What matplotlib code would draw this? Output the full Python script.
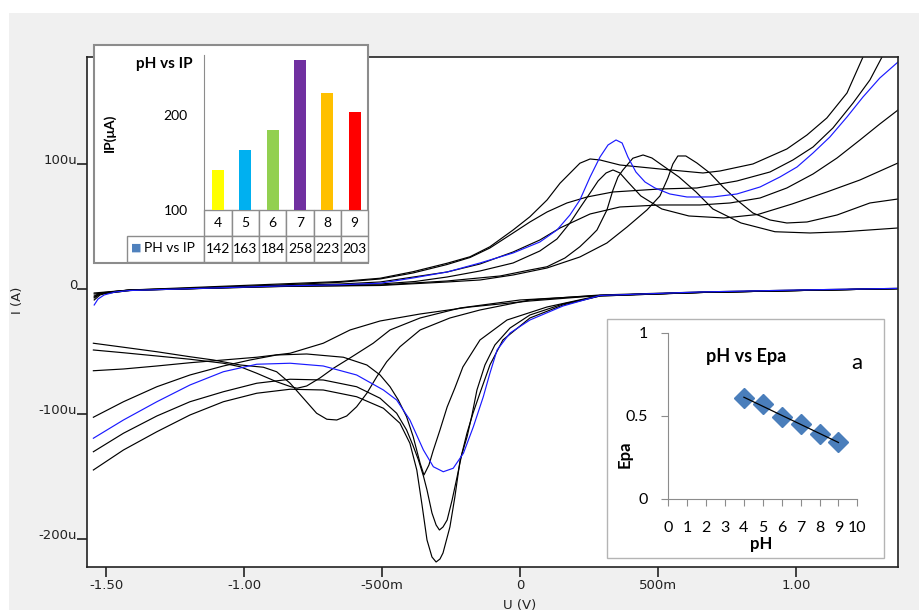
import matplotlib.pyplot as plt
import numpy as np
from matplotlib.patches import Rectangle

# ---- cyclic voltammograms: (potential V, current uA) ----
blue_fwd = [(-1.543, -12.8), (-1.529, -8.0), (-1.507, -4.8), (-1.467, -2.4), (-1.413, -1.2),
            (-1.232, 0.0), (-0.870, 2.4), (-0.650, 3.4), (-0.507, 4.6), (-0.388, 8.8),
            (-0.264, 13.6), (-0.145, 20.8), (-0.025, 28.8), (0.072, 37.6), (0.134, 47.2),
            (0.181, 59.2), (0.217, 71.2), (0.254, 89.6), (0.290, 105.6), (0.319, 115.2),
            (0.348, 119.2), (0.370, 116.8), (0.391, 105.6), (0.420, 93.6), (0.453, 85.6),
            (0.489, 80.8), (0.543, 76.0), (0.605, 73.6), (0.699, 73.6), (0.786, 76.0),
            (0.870, 81.6), (0.942, 89.6), (1.004, 97.6), (1.062, 108.8), (1.123, 121.6),
            (1.185, 137.6), (1.243, 153.6), (1.304, 168.8), (1.370, 181.6)]
blue_rev = [(1.370, 0.5), (1.014, -0.8), (0.652, -2.4), (0.290, -5.2), (0.156, -13.6),
            (0.036, -24.8), (-0.036, -35.2), (-0.083, -48.8), (-0.109, -67.4), (-0.133, -86.2),
            (-0.169, -110.2), (-0.205, -131.4), (-0.242, -143.4), (-0.278, -146.2),
            (-0.314, -142.2), (-0.350, -128.8), (-0.399, -104.8), (-0.447, -88.8),
            (-0.495, -80.8), (-0.592, -68.8), (-0.713, -61.6), (-0.833, -59.4), (-0.954, -60.2),
            (-1.075, -66.2), (-1.196, -76.8), (-1.316, -90.2), (-1.437, -104.8), (-1.546, -119.4)]

fwd_1 = [(-1.543, -8.8), (-1.522, -4.8), (-1.486, -2.4), (-1.413, -0.8), (-1.232, 0.8),
         (-0.870, 4.0), (-0.650, 6.0), (-0.507, 8.6), (-0.388, 13.8), (-0.264, 20.6),
         (-0.181, 25.8), (-0.109, 33.8), (-0.025, 47.2), (0.036, 57.8), (0.098, 71.2),
         (0.145, 84.6), (0.181, 92.6), (0.217, 100.6), (0.254, 104.0), (0.290, 103.2),
         (0.362, 99.2), (0.507, 96.0), (0.663, 92.8), (0.725, 94.4), (0.844, 100.0),
         (0.967, 112.0), (1.040, 123.2), (1.112, 136.8), (1.185, 156.8), (1.243, 185.6)]
fwd_2 = [(-1.543, -5.6), (-1.522, -3.2), (-1.413, -0.8), (-1.232, 0.4), (-0.870, 3.2),
         (-0.650, 5.4), (-0.507, 8.0), (-0.388, 12.8), (-0.264, 19.6), (-0.181, 25.2),
         (-0.109, 32.8), (-0.025, 44.8), (0.036, 53.6), (0.098, 61.6), (0.170, 68.8),
         (0.243, 73.6), (0.337, 77.6), (0.507, 80.0), (0.641, 80.8), (0.786, 86.4),
         (0.906, 93.6), (0.989, 103.2), (1.062, 113.6), (1.134, 128.8), (1.207, 148.8),
         (1.268, 167.2), (1.312, 185.6)]
fwd_3 = [(-1.543, -6.4), (-1.522, -4.0), (-1.413, -1.2), (-1.232, 0.0), (-0.870, 2.4),
         (-0.507, 4.0), (-0.380, 6.0), (-0.264, 9.6), (-0.145, 14.4), (-0.025, 20.8),
         (0.072, 30.4), (0.134, 40.0), (0.181, 52.8), (0.217, 64.8), (0.254, 76.8),
         (0.283, 86.4), (0.312, 92.8), (0.337, 95.2), (0.362, 92.8), (0.391, 85.6),
         (0.438, 74.4), (0.514, 64.0), (0.612, 58.4), (0.739, 56.8), (0.862, 59.6),
         (0.986, 68.0), (1.112, 77.6), (1.232, 87.2), (1.370, 100.8)]
fwd_4 = [(-1.543, -4.0), (-1.413, -0.8), (-1.232, 0.0), (-0.870, 2.0), (-0.507, 3.2),
         (-0.264, 6.4), (-0.072, 10.4), (0.036, 15.2), (0.098, 17.8), (0.163, 24.8),
         (0.217, 33.8), (0.254, 41.6), (0.279, 47.2), (0.315, 63.2), (0.337, 79.2),
         (0.355, 89.6), (0.373, 95.2), (0.409, 104.6), (0.446, 107.2), (0.478, 104.8),
         (0.514, 99.2), (0.576, 89.6), (0.638, 77.6), (0.699, 64.0), (0.801, 52.8),
         (0.924, 45.8), (1.051, 44.8), (1.174, 45.8), (1.370, 48.8)]
fwd_5 = [(-1.543, -3.2), (-1.413, -0.8), (-1.232, 0.0), (-0.870, 2.0), (-0.507, 2.8),
         (-0.264, 5.6), (-0.145, 7.2), (-0.025, 11.2), (0.098, 16.8), (0.217, 25.6),
         (0.315, 36.8), (0.388, 49.6), (0.460, 63.2), (0.507, 74.4), (0.536, 88.8),
         (0.554, 100.0), (0.572, 106.4), (0.601, 106.4), (0.641, 100.8), (0.688, 92.8),
         (0.736, 81.6), (0.786, 71.2), (0.844, 60.8), (0.906, 55.2), (0.967, 52.8),
         (1.040, 53.6), (1.149, 59.2), (1.268, 68.8), (1.370, 72.0)]
fwd_6 = [(-1.543, -7.2), (-1.522, -4.0), (-1.413, -1.2), (-1.232, 0.0), (-0.870, 2.8),
         (-0.650, 4.0), (-0.507, 5.6), (-0.264, 13.6), (-0.145, 20.0), (-0.025, 29.6),
         (0.072, 39.2), (0.145, 48.8), (0.254, 60.0), (0.362, 65.6), (0.507, 67.2),
         (0.652, 67.2), (0.761, 68.8), (0.870, 72.8), (0.967, 80.8), (1.062, 92.0),
         (1.149, 104.8), (1.232, 119.2), (1.304, 132.0), (1.370, 143.2)]

rev_1 = [(-1.546, -43.4), (-1.437, -46.6), (-1.316, -50.2), (-1.196, -54.2), (-1.111, -56.8),
         (-1.014, -60.8), (-0.930, -62.6), (-0.882, -66.2), (-0.833, -75.4), (-0.785, -87.4),
         (-0.737, -99.4), (-0.700, -104.2), (-0.664, -104.8), (-0.628, -101.6), (-0.592, -94.2),
         (-0.555, -83.4), (-0.519, -70.2), (-0.483, -58.2), (-0.435, -46.2), (-0.362, -32.8),
         (-0.254, -23.2), (-0.145, -16.8), (0.036, -8.8), (0.290, -4.8), (0.652, -2.4),
         (1.014, -0.8), (1.370, 0.5)]
rev_2 = [(-1.546, -48.8), (-1.437, -51.0), (-1.316, -53.6), (-1.196, -56.2), (-1.075, -59.4),
         (-1.014, -62.2), (-0.954, -67.4), (-0.882, -74.2), (-0.833, -78.0), (-0.808, -79.4),
         (-0.773, -77.6), (-0.725, -71.2), (-0.676, -63.4), (-0.616, -55.2), (-0.532, -43.4),
         (-0.471, -32.8), (-0.362, -23.2), (-0.217, -15.2), (0.0, -8.8), (0.290, -5.2),
         (0.652, -2.8), (1.014, -1.2), (1.370, 0.3)]
rev_3 = [(-1.546, -65.4), (-1.437, -64.0), (-1.316, -61.6), (-1.196, -59.0), (-1.075, -56.8),
         (-0.954, -54.6), (-0.833, -51.4), (-0.713, -43.4), (-0.616, -32.8), (-0.507, -25.6),
         (-0.362, -20.0), (-0.181, -14.4), (0.036, -9.6), (0.290, -5.2), (0.652, -2.8),
         (1.014, -1.2), (1.370, 0.3)]
rev_4 = [(-1.546, -102.6), (-1.437, -90.2), (-1.316, -78.2), (-1.196, -68.8), (-1.075, -61.6),
         (-0.978, -56.8), (-0.882, -52.8), (-0.773, -52.0), (-0.640, -54.6), (-0.555, -60.8),
         (-0.507, -68.8), (-0.471, -78.2), (-0.441, -88.8), (-0.411, -102.2), (-0.387, -118.2),
         (-0.362, -139.4), (-0.348, -148.8), (-0.330, -140.8), (-0.315, -129.6),
         (-0.290, -112.8), (-0.264, -94.4), (-0.236, -79.2), (-0.207, -62.4), (-0.145, -40.8),
         (-0.047, -24.8), (0.098, -14.4), (0.290, -5.2), (0.652, -2.8), (1.014, -1.2),
         (1.370, 0.3)]
rev_5 = [(-1.546, -130.2), (-1.437, -115.4), (-1.316, -101.6), (-1.196, -90.2), (-1.075, -82.2),
         (-0.954, -75.4), (-0.833, -72.2), (-0.713, -72.8), (-0.592, -78.2), (-0.507, -87.4),
         (-0.447, -99.4), (-0.411, -112.8), (-0.387, -125.6), (-0.368, -136.8),
         (-0.350, -149.6), (-0.337, -160.8), (-0.319, -179.2), (-0.304, -188.8),
         (-0.292, -192.8), (-0.279, -190.4), (-0.264, -184.8), (-0.246, -168.8),
         (-0.228, -150.4), (-0.210, -131.2), (-0.192, -115.2), (-0.170, -99.2),
         (-0.145, -83.2), (-0.109, -60.8), (-0.062, -40.8), (0.036, -23.2), (0.156, -12.8),
         (0.290, -5.6), (0.652, -2.8), (1.014, -1.2), (1.370, 0.3)]
rev_6 = [(-1.546, -144.8), (-1.437, -128.8), (-1.316, -114.2), (-1.196, -100.8), (-1.075, -90.2),
         (-0.954, -83.4), (-0.833, -80.2), (-0.713, -80.8), (-0.592, -86.2), (-0.495, -95.4),
         (-0.435, -107.4), (-0.399, -123.4), (-0.374, -144.8), (-0.355, -172.8),
         (-0.337, -200.8), (-0.319, -214.4), (-0.304, -218.4), (-0.290, -216.0),
         (-0.279, -211.2), (-0.254, -190.4), (-0.236, -166.4), (-0.217, -136.8),
         (-0.192, -118.4), (-0.174, -100.8), (-0.156, -80.8), (-0.127, -60.8), (-0.091, -44.8),
         (-0.036, -31.2), (0.036, -20.8), (0.156, -12.0), (0.290, -5.6), (0.652, -2.8),
         (1.014, -1.2), (1.370, 0.3)]

# ---- inset data ----
ph = [4, 5, 6, 7, 8, 9]
ip = [142, 163, 184, 258, 223, 203]
bar_colors = ['#ffff00', '#00b0f0', '#92d050', '#7030a0', '#ffc000', '#ff0000']
epa = [0.61, 0.57, 0.49, 0.45, 0.39, 0.345]

fig = plt.figure(figsize=(9.19, 6.10), dpi=100)
fig.add_artist(Rectangle((0.0098, 0), 0.9902, 0.9787, transform=fig.transFigure,
                         facecolor='#f0f0f0', edgecolor='none', zorder=-5))

# ---- main axes ----
ax = fig.add_axes([0.0947, 0.0705, 0.8825, 0.8361])
for branch in [fwd_1, fwd_2, fwd_3, fwd_4, fwd_5, fwd_6, rev_1, rev_2, rev_3, rev_4, rev_5, rev_6]:
    u, i = np.array(branch).T
    ax.plot(u, i, color='black', lw=0.85)
for branch in [blue_fwd, blue_rev]:
    u, i = np.array(branch).T
    ax.plot(u, i, color='#1a1aff', lw=0.85)

ax.set_xlim(-1.569, 1.370)
ax.set_ylim(-222.4, 185.6)
ax.set_xticks([-1.5, -1.0, -0.5, 0, 0.5, 1.0])
ax.set_xticklabels(['-1.50', '-1.00', '-500m', '0', '500m', '1.00'])
ax.set_yticks([100, 0, -100, -200])
ax.set_yticklabels(['100u', '0', '-100u', '-200u'])
ax.tick_params(axis='both', direction='out', width=1.2, colors='#222222', labelsize=9.5)
ax.tick_params(axis='y', length=7, pad=0)
ax.tick_params(axis='x', length=7, pad=1.5)
for t in ax.yaxis.get_major_ticks():
    t.label1.set_verticalalignment('baseline')
for s in ax.spines.values():
    s.set_linewidth(1.2)
    s.set_color('#222222')
fig.text(18 / 919, 1 - 300 / 610, 'I (A)', rotation=90, ha='center', va='center',
         fontsize=9.5, color='#222222')
fig.text(520 / 919, 1 - 605 / 610, 'U (V)', ha='center', va='center', fontsize=9.5,
         color='#222222')

# ---- inset: pH vs IP bar chart with data table ----
fig.add_artist(Rectangle((0.1023, 0.5689), 0.2981, 0.3574, transform=fig.transFigure,
                         facecolor='white', edgecolor='#8c8c8c', lw=1.5, zorder=1))
axb = fig.add_axes([0.2223, 0.6557, 0.1785, 0.2541], zorder=2)
axb.set_facecolor('none')
xb = np.arange(len(ph))
axb.bar(xb, ip, width=0.43, color=bar_colors)
axb.set_xlim(-0.5, len(ph) - 0.5)
axb.set_ylim(100, 263.5)
axb.set_yticks([100, 200])
axb.set_xticks([])
axb.tick_params(axis='y', length=0, pad=12, labelsize=10, labelfontfamily='Lato')
for k in ['top', 'right', 'bottom']:
    axb.spines[k].set_visible(False)
axb.spines['left'].set_color('#8c8c8c')
axb.text(-0.246, 0.94, 'pH vs IP', transform=axb.transAxes, ha='center', va='center',
         fontsize=11, fontweight='bold', family='Lato')
axb.text(-0.58, 0.5, 'IP(μA)', transform=axb.transAxes, rotation=90, ha='center',
         va='center', fontsize=10, fontweight='bold', family='Lato')
tab = axb.table(cellText=[[''] + [str(p) for p in ph], [''] + [str(v) for v in ip]],
                colWidths=[77.6] + [27.3] * 6, cellLoc='center',
                bbox=[-0.473, -0.335, 1.473, 0.335])
tab.auto_set_font_size(False)
for (r, c), cell in tab.get_celld().items():
    cell.set_edgecolor('#8c8c8c')
    cell.set_linewidth(1.0)
    cell.get_text().set_fontsize(10)
    cell.get_text().set_family('Lato')
tab[0, 0].visible_edges = 'open'
axb.text(-0.413, -0.245, '■', transform=axb.transAxes, ha='center', va='center',
         fontsize=8, color='#4f81bd')
axb.text(-0.365, -0.245, 'PH vs IP', transform=axb.transAxes, ha='left', va='center',
         fontsize=10, family='Lato')

# ---- inset: pH vs Epa scatter ----
fig.add_artist(Rectangle((0.6605, 0.0852), 0.3014, 0.3918, transform=fig.transFigure,
                         facecolor='white', edgecolor='#b4b4b4', lw=1.0, zorder=1))
axs = fig.add_axes([0.7272, 0.182, 0.2057, 0.2726], zorder=2)
axs.set_facecolor('none')
axs.plot(ph, epa, ls='none', marker='D', ms=10.5, color='#4a7ebb')
fit = np.polyfit(ph, epa, 1)
axs.plot([ph[0], ph[-1]], np.polyval(fit, [ph[0], ph[-1]]), color='black', lw=0.9)
axs.set_xlim(0, 10)
axs.set_ylim(0, 1)
axs.set_xticks(range(11))
axs.set_yticks([0, 0.5, 1])
axs.set_yticklabels(['0', '0.5', '1'])
axs.tick_params(direction='out', length=5, color='#8c8c8c', labelsize=11.5,
                labelfontfamily='Lato')
axs.tick_params(axis='x', pad=11)
axs.tick_params(axis='y', pad=10)
for k in ['top', 'right']:
    axs.spines[k].set_visible(False)
for k in ['left', 'bottom']:
    axs.spines[k].set_color('#8c8c8c')
axs.set_xlabel('pH', fontsize=12, fontweight='bold', family='Lato')
axs.xaxis.set_label_coords(0.494, -0.225)
axs.set_ylabel('Epa', fontsize=12, fontweight='bold', family='Lato')
axs.yaxis.set_label_coords(-0.19, 0.27)
axs.text(0.411, 0.854, 'pH vs Epa', transform=axs.transAxes, ha='center', va='center',
         fontsize=13, fontweight='bold', family='Lato')
axs.text(0.998, 0.818, 'a', transform=axs.transAxes, ha='center', va='center',
         fontsize=16, family='Lato')

fig.savefig('out.png', dpi=100)
